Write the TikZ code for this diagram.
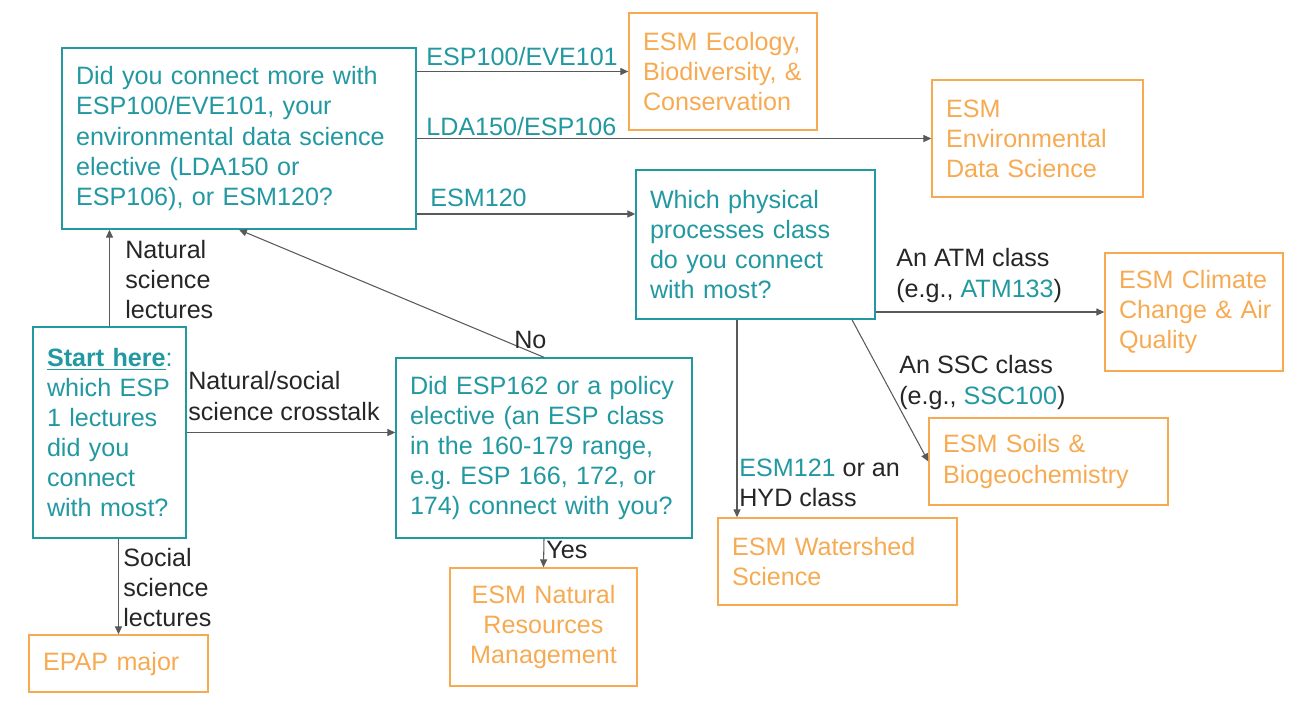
\documentclass[tikz,border=0pt]{standalone}
\usepackage{fontspec}
\setmainfont{Liberation Sans}
\usetikzlibrary{arrows.meta}
\tikzset{>={Triangle[length=4.5pt,width=4pt]}}
\definecolor{myteal}{RGB}{34,152,161}
\definecolor{myorange}{RGB}{246,170,82}
\definecolor{mygray}{RGB}{89,89,89}
\definecolor{mytext}{RGB}{38,38,38}
\tikzstyle{qbox}=[draw=myteal,text=myteal,line width=0.8pt,inner xsep=0.28cm,inner ysep=0,align=left]
\tikzstyle{abox}=[draw=myorange,text=myorange,line width=0.8pt,inner xsep=0.28cm,inner ysep=0,align=left]
\tikzstyle{lbl}=[text=mytext,inner sep=0,align=left,anchor=west]
\tikzstyle{conn}=[->,draw=mygray,line width=0.6pt]

\begin{document}
\begin{tikzpicture}[x=0.02cm,y=-0.02cm,every node/.style={font=\fontsize{14.3}{17.1}\selectfont\frenchspacing}]
    \useasboundingbox (0,0) rectangle (1316,725);

    % question boxes
    \node[qbox,text width=6.52cm,minimum height=3.62cm] (q1) at (239,138.5)
        {Did you connect more with\\ESP100/EVE101, your\\environmental data science\\elective (LDA150 or\\ESP106), or ESM120?};
    \node[qbox,text width=4.22cm,minimum height=2.98cm] (phys) at (755.5,244.5)
        {Which physical\\processes class\\do you connect\\with most?};
    \node[qbox,text width=2.5cm,minimum height=4.22cm] (start) at (109.5,432.5)
        {\underline{\textbf{Start here}}:\\which ESP\\1 lectures\\did you\\connect\\with most?};
    \node[qbox,text width=5.36cm,minimum height=3.6cm] (policy) at (544,448)
        {Did ESP162 or a policy\\elective (an ESP class\\in the 160-179 range,\\e.g. ESP 166, 172, or\\174) connect with you?};

    % answer boxes
    \node[abox,text width=3.2cm,minimum height=2.34cm] (eco) at (723,71.5)
        {ESM Ecology,\\Biodiversity, \&\\Conservation};
    \node[abox,text width=3.66cm,minimum height=2.34cm] (eds) at (1037.5,138.5)
        {ESM\\Environmental\\Data Science};
    \node[abox,text width=3.0cm,minimum height=2.36cm] (clim) at (1194,312)
        {ESM Climate\\\mbox{Change \& Air}\\Quality};
    \node[abox,text width=4.22cm,minimum height=1.74cm] (soil) at (1048.5,461.5)
        {ESM Soils \&\\Biogeochemistry};
    \node[abox,text width=4.22cm,minimum height=1.74cm] (wshed) at (837.5,561.5)
        {ESM Watershed\\Science};
    \node[abox,align=center,text width=3.18cm,minimum height=2.36cm] (nrm) at (543.5,627)
        {ESM Natural\\Resources\\Management};
    \node[abox,text width=3.02cm,minimum height=1.14cm] (epap) at (118.5,663.5)
        {EPAP major};

    % connectors
    \draw[conn] (q1.east |- eco.west) -- (eco.west);
    \draw[conn] (q1.east) -- (eds.west);
    \draw[conn] ([yshift=-1.51cm]q1.east) coordinate (c1) -- (c1 -| phys.west);
    \draw[conn] (start.north) -- (start.north |- q1.south);
    \draw[conn] (start.east) -- (start.east -| policy.west);
    \draw[conn] (epap.north |- start.south) -- (epap.north);
    \draw[conn] (policy.north) -- (q1.south);
    \draw[conn] (policy.south) -- (nrm.north);
    \draw[conn] (clim.west -| phys.east) -- (clim.west);
    \draw[conn] ([xshift=1.93cm]phys.south) -- (soil.west);
    \draw[conn] ([xshift=-0.37cm]phys.south) coordinate (c2) -- (c2 |- wshed.north);

    % labels
    \node[lbl,text=myteal] (l1) at (426,57) {ESP100/EVE101};
    \node[lbl,text=myteal] (l2) at (426,127) {LDA150/ESP106};
    \node[lbl,text=myteal] (l3) at (430,198) {ESM120};
    \node[lbl] (l4) at (125,279.5) {Natural\\science\\lectures};
    \node[lbl] (l5) at (188,396) {Natural/social\\science crosstalk};
    \node[lbl] (l6) at (123,587.5) {Social\\science\\lectures};
    \node[lbl] (l7) at (514,340) {No};
    \node[lbl] (l8) at (546,550) {Yes};
    \node[lbl] (l9) at (896,275.5) {An ATM class\\(e.g., {\color{myteal}ATM133})};
    \node[lbl] (l10) at (899,382.5) {An SSC class\\(e.g., {\color{myteal}SSC100})};
    \node[lbl] (l11) at (739,483) {{\color{myteal}ESM121} or an\\HYD class};
\end{tikzpicture}
\end{document}
